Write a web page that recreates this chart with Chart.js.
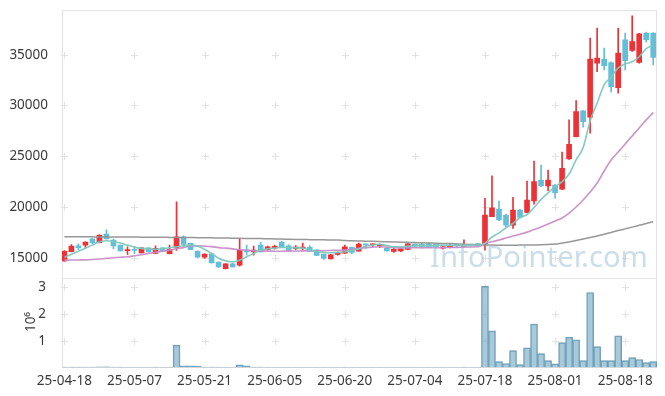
<!DOCTYPE html>
<html><head><meta charset="utf-8">
<script src="https://cdn.jsdelivr.net/npm/chart.js@4.4.1/dist/chart.umd.min.js"></script>
<style>html,body{margin:0;padding:0;background:#fff;}#wrap{position:relative;width:665px;height:396px;}</style>
</head><body><div id="wrap"><canvas id="c" width="665" height="396"></canvas></div>
<script>
// ---- data ----
const tickDates = ['25-04-18','25-05-07','25-05-21','25-06-05','25-06-20','25-07-04','25-07-18','25-08-01','25-08-18'];
const tickIndex = [0,10,20,30,40,50,60,70,80];
const priceTicks = [15000,20000,25000,30000,35000];
const volumeTicks = [1000000,2000000,3000000];

const open  = [14700,15600,16180,16250,16870,16480,17340,16750,16250,15700,
               15800,15490,15990,15430,15990,15400,15990,17070,16420,15660,
               15070,15400,14580,13920,14400,14280,15760,15590,16250,15800,
               15960,16520,16180,15890,15950,16030,15790,15360,14900,15340,
               15460,16025,15660,16320,16290,16150,15930,15630,15690,15830,
               16350,16320,16380,16320,15960,15990,16320,16120,16320,16400,
               16350,19040,19800,19210,18220,19700,19480,20590,22660,22070,
               22170,21770,24730,26930,29460,28840,34170,34560,34230,31760,
               36470,35410,34230,37130,37130];
const high  = [15700,16300,16380,16580,16900,17260,17760,16850,16250,16090,
               16120,16000,15990,16180,16000,16250,20520,17170,16450,15660,
               15400,15400,14580,14420,14500,16840,16250,16150,16520,16150,
               16250,16650,16280,16200,16450,16200,15800,15360,15350,15600,
               16250,16050,16450,16320,16380,16380,15950,15960,15900,16400,
               16380,16420,16450,16350,16200,16350,16350,16770,16350,16420,
               20860,23060,20590,19300,20960,19750,22560,24530,24140,23650,
               22200,25400,28580,30480,29500,36630,37620,35650,34300,37620,
               37130,38830,37100,37220,37150];
const low   = [14650,15580,15790,16020,16380,16460,16850,15900,15690,15340,
               15420,15480,15590,15430,15660,15390,15730,16130,15790,15000,
               14950,14500,14020,13900,14100,14180,15270,15270,15590,15780,
               15850,16000,15700,15800,15790,15640,15200,14840,14900,15270,
               15430,15400,15660,15930,16100,16000,15650,15530,15600,15800,
               16000,15950,16000,15950,15850,15980,16100,16050,16150,16150,
               15760,19040,18650,18000,17900,18950,19450,20270,22000,21610,
               20860,21700,24700,26900,27860,27270,33340,33510,31310,31210,
               33510,35310,34170,36240,33990];
const close = [15650,16150,16000,16550,16480,17240,16870,16180,15690,15760,
               15740,15990,15590,15930,15660,15830,17070,16320,15790,15070,
               15365,14500,14110,14410,14110,15760,15590,15760,15590,16080,
               16120,16030,15730,16055,16000,15660,15240,14940,15300,15460,
               16085,15530,16350,16280,16350,16320,15690,15830,15890,16380,
               16150,16090,16030,15990,16085,16150,16180,16320,16200,16200,
               19210,19930,18720,18220,19700,18980,20690,22500,22070,22660,
               21410,23820,26180,29400,28410,34560,34660,33930,31860,35150,
               34420,36300,37060,36470,34720];
const volume = [20000,15000,12000,18000,15000,22000,25000,18000,12000,10000,
                9000,11000,8000,12000,9000,15000,840000,60000,60000,55000,
                15000,12000,14000,10000,9000,100000,60000,15000,12000,10000,
                9000,8000,10000,9000,8000,9000,10000,11000,9000,8000,
                12000,10000,11000,9000,8000,9000,10000,8000,7000,9000,
                8000,7000,8000,7000,9000,8000,7000,12000,8000,9000,
                3040000,1370000,220000,150000,630000,110000,740000,1630000,520000,260000,
                140000,930000,1140000,1040000,260000,2810000,780000,260000,260000,1190000,
                260000,370000,300000,180000,220000];
const ma5  = [15040,15350,15650,15950,16250,16580,16680,16600,16450,16250,
              16050,15930,15880,15830,15900,15990,16085,16180,16250,16150,
              15850,15430,14950,14700,14610,14770,15100,15430,15760,15900,
              15950,16025,16000,15980,15950,15760,15600,15530,15500,15530,
              15590,15720,15860,16180,16250,16320,16200,16085,16085,16150,
              16180,16180,16200,16250,16250,16250,16250,16250,16250,16250,
              16450,17050,17450,17950,18400,18950,19250,19950,20750,21400,
              22000,22500,23250,24650,25850,28480,30220,32030,32800,33700,
              34100,34300,34800,35600,35870];
const ma20 = [14773,14780,14790,14800,14830,14880,14950,15000,15050,15100,
              15200,15300,15430,15550,15650,15760,15900,16000,16180,16180,
              16150,16100,16000,15950,15880,15800,15750,15700,15660,15660,
              15650,15650,15660,15670,15680,15680,15690,15700,15720,15740,
              15760,15820,15930,16000,16050,16085,16050,16000,15980,15980,
              15990,16000,16000,16000,16000,16020,16030,16050,16070,16085,
              16420,16580,16750,16950,17140,17330,17530,17780,18030,18320,
              18620,18920,19410,20000,20690,21480,22370,23550,24630,25420,
              26210,27000,27790,28580,29300];
const ma60 = [17070,17068,17066,17064,17062,17060,17058,17055,17050,17045,
              17040,17035,17030,17025,17020,17010,17000,16995,16990,16985,
              16975,16965,16955,16945,16935,16920,16910,16900,16890,16880,
              16860,16845,16830,16815,16800,16790,16780,16770,16760,16750,
              16700,16680,16660,16640,16620,16600,16580,16560,16540,16520,
              16500,16480,16460,16440,16420,16400,16370,16340,16310,16280,
              16260,16250,16240,16240,16240,16250,16260,16270,16290,16320,
              16350,16450,16550,16700,16850,17000,17150,17320,17500,17680,
              17850,18020,18200,18380,18550];

// ---- build ----
const UP = '#ec3237', DOWN = '#62bfd7';
const idx = close.map((_, i) => i);
const candleColor = idx.map(i => close[i] >= open[i] ? UP : DOWN);
const FONT = '"Noto Sans", "DejaVu Sans", sans-serif';
const TEXT = '#3a3a3a';
const noPad = s => { s.paddingTop = 0; s.paddingBottom = 0; s.paddingLeft = 0; s.paddingRight = 0; };

const decor = {
  id: 'decor',
  beforeDatasetsDraw(chart) {
    const {ctx, chartArea: a, scales: {x, y, yv}} = chart;
    ctx.save();
    ctx.strokeStyle = '#e2e2e2'; ctx.lineWidth = 1;
    const L = Math.round(a.left) + 0.5, R = Math.round(a.right) - 0.5;
    const T = Math.round(a.top) + 0.5, B = Math.round(a.bottom) - 0.5;
    ctx.strokeRect(L, T, R - L, B - T);
    const sep = Math.round(yv.top) + 0.5;
    ctx.beginPath(); ctx.moveTo(L, sep); ctx.lineTo(R, sep); ctx.stroke();
    const cross = (px, py) => {
      ctx.beginPath();
      ctx.moveTo(px - 3, py); ctx.lineTo(px + 4, py);
      ctx.moveTo(px + 0.5, py - 3.5); ctx.lineTo(px + 0.5, py + 3.5);
      ctx.stroke();
    };
    for (const t of tickIndex) {
      const px = Math.round(x.getPixelForValue(t));
      for (const v of priceTicks) cross(px, Math.round(y.getPixelForValue(v)) + 0.5);
      for (const v of volumeTicks) cross(px, Math.round(yv.getPixelForValue(v)) + 0.5);
    }
    ctx.restore();
  },
  afterDatasetsDraw(chart) {
    const {ctx} = chart;
    ctx.save();
    const wm = 'InfoPointer.com';
    ctx.font = '30px ' + FONT;
    const w = ctx.measureText(wm).width;
    const size = 30 * 218 / w;
    ctx.font = size + 'px ' + FONT;
    ctx.fillStyle = 'rgba(150,190,214,0.5)';
    ctx.textBaseline = 'alphabetic';
    ctx.fillText(wm, 430, 267);
    ctx.restore();
    ctx.save();
    ctx.translate(31, 322);
    ctx.rotate(-Math.PI / 2);
    ctx.font = '13.5px ' + FONT;
    ctx.fillStyle = TEXT;
    ctx.textAlign = 'center'; ctx.textBaseline = 'middle';
    ctx.fillText('10\u2076', 0, 0);
    ctx.restore();
  }
};

new Chart(document.getElementById('c'), {
  data: {
    datasets: [
      { type: 'line', label: 'MA5', data: idx.map(i => ({x: i, y: ma5[i]})), yAxisID: 'y',
        borderColor: 'rgba(126,200,190,0.95)', borderWidth: 1.6, pointRadius: 0, cubicInterpolationMode: 'monotone', order: 1 },
      { type: 'line', label: 'MA20', data: idx.map(i => ({x: i, y: ma20[i]})), yAxisID: 'y',
        borderColor: 'rgba(200,140,198,0.95)', borderWidth: 1.6, pointRadius: 0, cubicInterpolationMode: 'monotone', order: 1 },
      { type: 'line', label: 'MA60', data: idx.map(i => ({x: i, y: ma60[i]})), yAxisID: 'y',
        borderColor: 'rgba(145,145,145,0.95)', borderWidth: 1.5, pointRadius: 0, cubicInterpolationMode: 'monotone', order: 1 },
      { type: 'bar', label: 'body', data: idx.map(i => ({x: i, y: [open[i], close[i]]})), yAxisID: 'y',
        backgroundColor: candleColor, barThickness: 5, minBarLength: 1, grouped: false, order: 2 },
      { type: 'bar', label: 'wick', data: idx.map(i => ({x: i, y: [low[i], high[i]]})), yAxisID: 'y',
        backgroundColor: candleColor, barThickness: 1, grouped: false, order: 3 },
      { type: 'bar', label: 'volume', data: idx.map(i => ({x: i, y: volume[i]})), yAxisID: 'yv',
        backgroundColor: 'rgba(135,180,202,0.72)', borderColor: 'rgba(100,152,178,0.95)', borderWidth: 1,
        barPercentage: 1, categoryPercentage: 1, grouped: false, order: 4 }
    ]
  },
  options: {
    responsive: false, animation: false, devicePixelRatio: 1,
    layout: { padding: { top: 10, right: 8, left: 0, bottom: 0 } },
    plugins: { legend: { display: false }, tooltip: { enabled: false } },
    scales: {
      x: {
        type: 'linear', min: -0.34, max: 84.54, offset: false,
        grid: { display: false, offset: false }, border: { display: false },
        afterBuildTicks: s => { s.ticks = tickIndex.map(v => ({value: v})); },
        afterFit: s => { s.height = 28.5; noPad(s); },
        ticks: { autoSkip: false, maxRotation: 0, padding: -2, color: TEXT, font: { family: FONT, size: 13.5 },
          callback: v => tickDates[tickIndex.indexOf(v)] }
      },
      yv: {
        type: 'linear', position: 'left', stack: 'panes', stackWeight: 1, min: 0, max: 3350000,
        grid: { display: false }, border: { display: false },
        afterBuildTicks: s => { s.ticks = volumeTicks.map(v => ({value: v})); },
        afterFit: s => { s.width = 62; noPad(s); },
        ticks: { padding: 8, color: TEXT, font: { family: FONT, size: 13.5 }, callback: v => String(v / 1000000) }
      },
      y: {
        type: 'linear', position: 'left', stack: 'panes', stackWeight: 3, min: 13000, max: 39400,
        grid: { display: false }, border: { display: false },
        afterBuildTicks: s => { s.ticks = priceTicks.map(v => ({value: v})); },
        afterFit: s => { s.width = 62; noPad(s); },
        ticks: { padding: 6, color: TEXT, font: { family: FONT, size: 13.5 } , callback: v => String(v) }
      }
    }
  },
  plugins: [decor]
});
</script>
</body></html>
